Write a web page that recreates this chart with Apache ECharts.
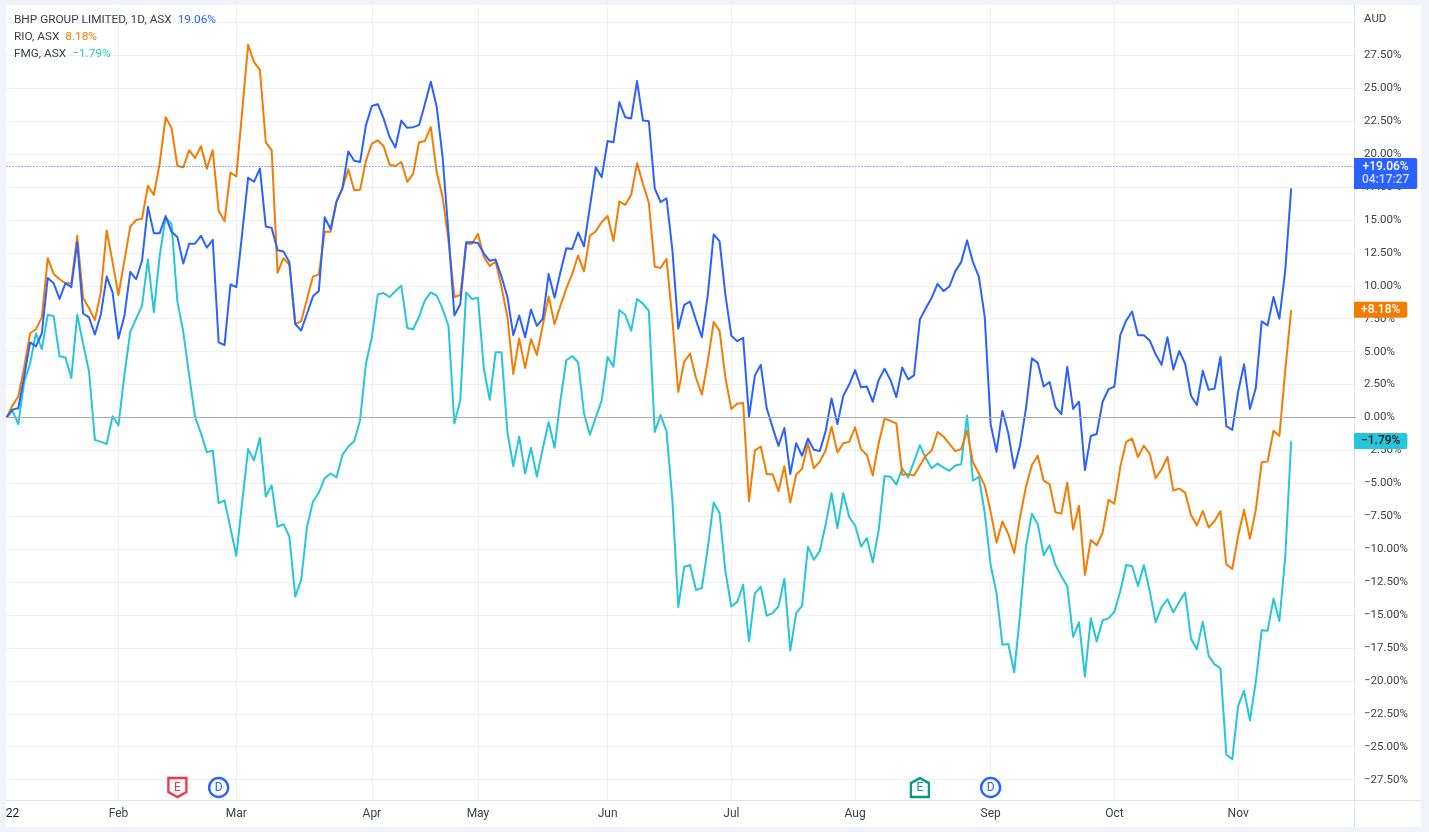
<!DOCTYPE html>
<html>
<head>
<meta charset="utf-8">
<script src="https://cdn.jsdelivr.net/npm/echarts@6/dist/echarts.min.js"></script>
<style>
html,body{margin:0;padding:0;background:#f0f3fa;width:1429px;height:832px;overflow:hidden}
#panel{position:absolute;left:6px;top:5px;width:1415px;height:822px;background:#fff}
#chart{position:absolute;left:0;top:0;width:1429px;height:832px}
</style>
</head>
<body>
<div id="panel"></div>
<div id="chart"></div>
<script>
var monthLabels = ["22","Feb","Mar","Apr","May","Jun","Jul","Aug","Sep","Oct","Nov"];
var monthCounts = [19,20,23,18,22,21,21,23,21,21,21];

var bhp = [0,0.6,0.7,3.1,5.7,5.4,6.4,10.6,10.2,9.0,
10.2,9.9,13.3,7.9,7.6,6.3,7.8,10.7,9.5,6.0,
7.7,11.05,10.5,11.9,16.0,14.0,14.0,15.3,14.1,13.7,
11.7,13.2,13.2,13.8,12.9,13.5,5.7,5.5,10.1,9.9,
14.0,18.2,17.9,18.9,14.5,14.4,12.7,12.6,11.8,7.1,
6.6,7.9,9.2,9.6,15.2,14.3,16.4,17.4,20.2,19.5,
19.4,22.2,23.65,23.8,22.7,21.3,20.5,22.55,22.0,22.05,
22.2,23.8,25.5,23.6,19.8,14.0,7.75,8.6,13.3,13.3,
13.25,12.45,11.9,12.0,10.7,9.15,6.25,7.75,6.1,8.2,
6.95,7.5,10.9,9.1,11.05,12.85,12.8,14.05,13.0,16.0,
19.0,18.25,21.0,20.9,23.95,22.8,22.7,25.55,22.55,22.5,
17.4,16.35,16.65,12.7,6.75,8.55,8.8,7.4,6.1,9.3,
13.9,13.4,9.3,6.2,5.8,6.05,0.05,3.2,4.0,0.7,
-0.75,-2.15,-0.8,-4.3,-1.95,-2.9,-1.6,-2.45,-2.55,-1.05,
1.45,-0.5,1.65,2.5,3.6,2.3,2.35,1.2,2.85,3.7,
2.85,1.55,3.8,2.9,3.2,7.45,8.3,9.1,10.15,9.6,
9.95,11.1,11.8,13.45,11.8,10.7,7.65,-0.5,-2.6,0.5,
-1.2,-3.85,-2.1,0.7,4.5,4.15,2.35,2.7,0.8,0.25,
3.85,0.65,1.2,-4.0,-1.4,-1.25,1.2,2.15,2.35,6.25,
7.35,8.05,6.25,6.25,5.85,4.8,4.0,6.1,3.65,5.05,
4.1,1.65,0.95,3.55,2.1,2.2,4.6,-0.65,-0.95,1.95,
4.05,0.65,2.25,7.3,7.0,9.15,7.5,11.2,17.4];

var rio = [0,0.9,1.6,3.8,6.4,6.7,7.6,12.1,10.9,10.5,
10.2,10.2,13.8,9.1,8.3,7.4,9.5,14.2,11.8,9.3,
11.9,14.5,15.0,15.1,17.6,16.9,19.3,22.8,22.0,19.1,
19.0,20.3,19.7,20.6,18.9,20.3,15.7,14.9,18.6,18.3,
23.3,28.3,27.0,26.4,20.9,20.3,11.0,12.1,11.6,7.1,
7.3,9.0,10.7,10.85,14.1,14.1,16.4,17.4,18.85,17.25,
17.3,19.5,20.8,21.05,20.6,19.2,19.1,19.4,17.9,18.5,
20.9,21.0,22.05,18.65,16.75,13.45,9.15,9.3,13.2,13.2,
13.95,12.2,11.5,11.85,9.9,7.65,3.3,6.0,3.75,5.95,
4.75,7.0,9.2,7.1,8.5,9.8,10.9,12.3,11.1,13.8,
14.15,14.85,15.3,13.4,16.4,16.15,16.9,19.3,17.75,16.3,
11.45,11.35,12.05,7.4,1.95,4.25,4.85,3.0,1.75,4.25,
7.25,6.6,3.0,0.65,1.05,1.1,-6.35,-2.5,-2.2,-4.3,
-4.3,-5.6,-3.7,-6.45,-4.35,-3.9,-1.95,-3.85,-3.35,-2.5,
-0.7,-2.65,-1.95,-1.85,-0.75,-2.4,-2.85,-4.4,-1.95,-0.1,
-0.25,-0.45,-4.35,-4.3,-4.4,-3.65,-2.9,-2.5,-1.1,-1.45,
-2.0,-2.55,-2.4,-1.0,-3.4,-4.25,-5.15,-7.15,-9.5,-7.9,
-8.85,-10.3,-7.55,-5.25,-3.6,-2.9,-4.8,-5.05,-7.2,-7.3,
-4.95,-8.5,-6.7,-11.95,-9.3,-9.7,-8.75,-6.25,-6.55,-3.75,
-1.85,-1.6,-3.0,-2.15,-2.75,-4.6,-3.95,-3.0,-5.55,-5.4,
-5.7,-7.4,-8.2,-7.1,-8.35,-7.85,-7.1,-11.15,-11.5,-9.0,
-7.0,-9.2,-7.0,-3.4,-3.35,-1.0,-1.4,3.6,8.18];

var fmg = [0,0.55,-0.5,2.7,4.1,6.4,5.2,7.8,7.7,4.65,
4.55,3.0,7.8,5.6,3.5,-1.7,-1.85,-2.0,0.1,-0.6,
3.2,6.5,7.5,8.5,12.0,8.0,12.3,15.2,14.7,8.8,
6.5,3.2,0.05,-1.2,-2.65,-2.5,-6.5,-6.3,-8.4,-10.5,
-6.4,-2.4,-3.25,-1.55,-6.0,-5.15,-8.3,-8.1,-9.05,-13.6,
-12.35,-8.3,-6.4,-5.7,-4.6,-4.25,-4.55,-2.85,-2.2,-1.8,
-0.2,4.1,6.1,9.35,9.45,9.15,9.6,10.0,6.8,6.7,
7.65,8.9,9.5,9.25,8.25,6.95,-0.45,1.3,9.5,9.0,
9.1,3.7,1.35,4.95,4.95,-1.1,-3.7,-1.45,-4.25,-2.3,
-4.5,-2.35,-0.35,-2.3,1.3,4.35,4.65,4.2,0.3,-1.3,
0,1.3,4.6,3.85,8.15,7.8,6.6,9.0,8.65,8.1,
-1.1,0.2,-1.05,-6.3,-14.4,-11.35,-11.2,-13.1,-12.95,-9.9,
-6.45,-7.25,-11.7,-14.35,-14.0,-12.7,-17.0,-13.35,-12.85,-15.05,
-14.85,-14.35,-12.25,-17.7,-14.85,-14.3,-9.8,-10.8,-10.15,-8.15,
-5.75,-8.4,-5.75,-7.55,-8.2,-9.8,-9.15,-11.0,-8.55,-4.45,
-4.5,-5.1,-3.85,-4.55,-3.35,-2.1,-3.1,-3.85,-3.5,-3.8,
-4.05,-3.65,-3.55,0.15,-4.8,-4.5,-7.25,-11.2,-13.35,-17.25,
-17.2,-19.35,-14.9,-9.8,-7.3,-8.1,-10.45,-9.7,-11.2,-12.05,
-12.8,-16.65,-15.55,-19.65,-15.25,-17.0,-15.4,-15.25,-14.75,-13.2,
-11.2,-11.3,-12.8,-11.2,-13.2,-15.55,-14.4,-13.8,-14.8,-14.0,
-13.3,-16.8,-17.6,-15.5,-18.1,-18.75,-19.05,-25.6,-25.95,-21.9,
-20.75,-23.0,-20.05,-16.15,-16.2,-13.75,-15.45,-10.55,-1.79];

var gridValues = [-27.5,-25,-22.5,-20,-17.5,-15,-12.5,-10,-7.5,-5,-2.5,0,2.5,5,7.5,10,12.5,15,17.5,20,22.5,25,27.5,30];
var tickValues = [-27.5,-25,-22.5,-20,-17.5,-15,-12.5,-10,-7.5,-5,-2.5,0,2.5,5,7.5,10,12.5,15,17.5,20,22.5,25,27.5];

var bhpLast = 19.06, rioLast = 8.18, fmgLast = -1.79;
var bhpCountdown = "04:17:27";

var eventIndex = [29,36,155,167];
var eventLetter = ["E","D","E","D"];
var eventKind = ["down","div","up","div"];
var eventY = -28.1;

var BLUE="#2962ff", ORANGE="#f57c00", CYAN="#26c6da", TEXT="#3d414d", GRID="#f0f0f3", PANE="#e0e3eb";
var FONT="Roboto, 'Liberation Sans', sans-serif";

var categories = [], starts = {};
monthLabels.forEach(function(m,k){
  starts[categories.length] = m;
  for (var d=0; d<monthCounts[k]; d++) categories.push(m+"-"+(d+1));
});

var shapes = {
  down:"path://M1 1 H19 V15 L10 20 L1 15 Z",
  up:"path://M10 0 L19 5 V19 H1 V5 Z",
  div:"circle"
};
var eventColors = {down:"#f23645", up:"#089981", div:BLUE};
var eventData = eventIndex.map(function(ix,k){
  var c = eventColors[eventKind[k]];
  return {value:[ix,eventY], symbol:shapes[eventKind[k]],
    symbolSize: eventKind[k]==="div"?[19,19]:[18,19],
    itemStyle:{color:"#fff",borderColor:c,borderWidth:2.4,opacity:1},
    label:{show:true,position:"inside",formatter:eventLetter[k],color:c,fontSize:12,fontFamily:FONT}};
});

function pct(v){ return (v<0?"\u2212":"")+Math.abs(v).toFixed(2)+"%"; }
function badge(v,color){
  return {yAxis:v,lineStyle:{color:"rgba(0,0,0,0)",width:1},
    label:{show:true,position:"end",distance:0,offset:[-2,0],formatter:(v<0?"":"+")+pct(v),
      backgroundColor:color,color:v<0?"#131722":"#fff",fontSize:12,fontWeight:500,fontFamily:FONT,
      padding:[2,7,2,7],borderRadius:[0,2,2,0]}};
}
function line(name,data,color,extra){
  return Object.assign({name:name,type:"line",data:data,showSymbol:false,symbol:"none",
    lineStyle:{color:color,width:2,join:"round"},itemStyle:{color:color},animation:false},extra||{});
}
var marks = function(d){ return {silent:true,symbol:"none",animation:false,precision:2,data:d}; };

var option = {
  animation:false,
  textStyle:{fontFamily:FONT},
  grid:{left:6.5,top:5,width:1349.5,height:795,containLabel:false},
  legend:{left:9,top:14,orient:"vertical",icon:"none",itemWidth:0,itemHeight:0,itemGap:4,padding:0,
    data:["BHP","RIO","FMG"],selectedMode:false,
    formatter:function(n){
      if(n==="BHP") return "{n|BHP GROUP LIMITED, 1D, ASX}  {b|19.06%}";
      if(n==="RIO") return "{n|RIO, ASX}  {o|8.18%}";
      return "{n|FMG, ASX}  {c|\u22121.79%}";
    },
    textStyle:{lineHeight:13,padding:0,rich:{
      n:{color:TEXT,fontSize:11.8,fontFamily:FONT},
      b:{color:BLUE,fontSize:11.8,fontFamily:FONT},
      o:{color:ORANGE,fontSize:11.8,fontFamily:FONT},
      c:{color:CYAN,fontSize:11.8,fontFamily:FONT}}}},
  xAxis:{type:"category",boundaryGap:false,data:categories,
    axisLine:{show:false},axisTick:{show:false},
    axisLabel:{color:TEXT,fontSize:12,margin:8,fontFamily:FONT,
      interval:function(i){return starts[i]!==undefined;},
      formatter:function(v,i){return i===0?"{f|22}":starts[i];},
      rich:{f:{color:"#131722",fontSize:12,fontFamily:FONT,padding:[0,0,0,12]}}},
    splitLine:{show:true,lineStyle:{color:GRID,width:1},
      interval:function(i){return starts[i]!==undefined && i>0;}}},
  yAxis:{type:"value",position:"right",min:-29.045,max:31.325,scale:false,
    name:"AUD",nameLocation:"end",nameGap:-20,
    nameTextStyle:{color:TEXT,fontSize:11.5,align:"left",padding:[0,0,0,8],fontFamily:FONT},
    axisLine:{show:false},
    axisTick:{show:false,customValues:gridValues},
    axisLabel:{color:TEXT,fontSize:11.5,margin:8,fontFamily:FONT,customValues:tickValues,
      formatter:function(v){return pct(v);}},
    splitLine:{show:true,lineStyle:{color:GRID,width:1}}},
  graphic:[
    {type:"line",silent:true,z:5,shape:{x1:1354.5,y1:5,x2:1354.5,y2:827},style:{stroke:PANE,lineWidth:1}},
    {type:"line",silent:true,z:5,shape:{x1:6,y1:800.5,x2:1421,y2:800.5},style:{stroke:PANE,lineWidth:1}}
  ],
  series:[
    line("FMG",fmg,CYAN,{z:2,markLine:marks([
      {yAxis:0,lineStyle:{color:"#a9a9b0",width:1,type:"solid"},label:{show:false}},
      badge(fmgLast,CYAN)])}),
    line("RIO",rio,ORANGE,{z:3,markLine:marks([badge(rioLast,ORANGE)])}),
    line("BHP",bhp,BLUE,{z:4,markLine:marks([
      {yAxis:bhpLast,lineStyle:{color:BLUE,width:1,type:[1,2]},
       label:{show:true,position:"end",distance:0,offset:[-2,7],
         formatter:"{a|+"+pct(bhpLast)+"}\n{t|"+bhpCountdown+"}",
         backgroundColor:BLUE,padding:[2,8,2,8],borderRadius:[0,2,2,0],
         rich:{a:{color:"#fff",fontSize:12,fontWeight:500,lineHeight:13,align:"center",fontFamily:FONT},
               t:{color:"#cfdcff",fontSize:12,fontWeight:500,lineHeight:14,align:"center",fontFamily:FONT}}}}])}),
    {name:"Events",type:"scatter",data:eventData,z:6,animation:false,silent:true,clip:false}
  ]
};
var chart = echarts.init(document.getElementById("chart"),null,{renderer:"canvas"});
chart.setOption(option);
</script>
</body>
</html>
